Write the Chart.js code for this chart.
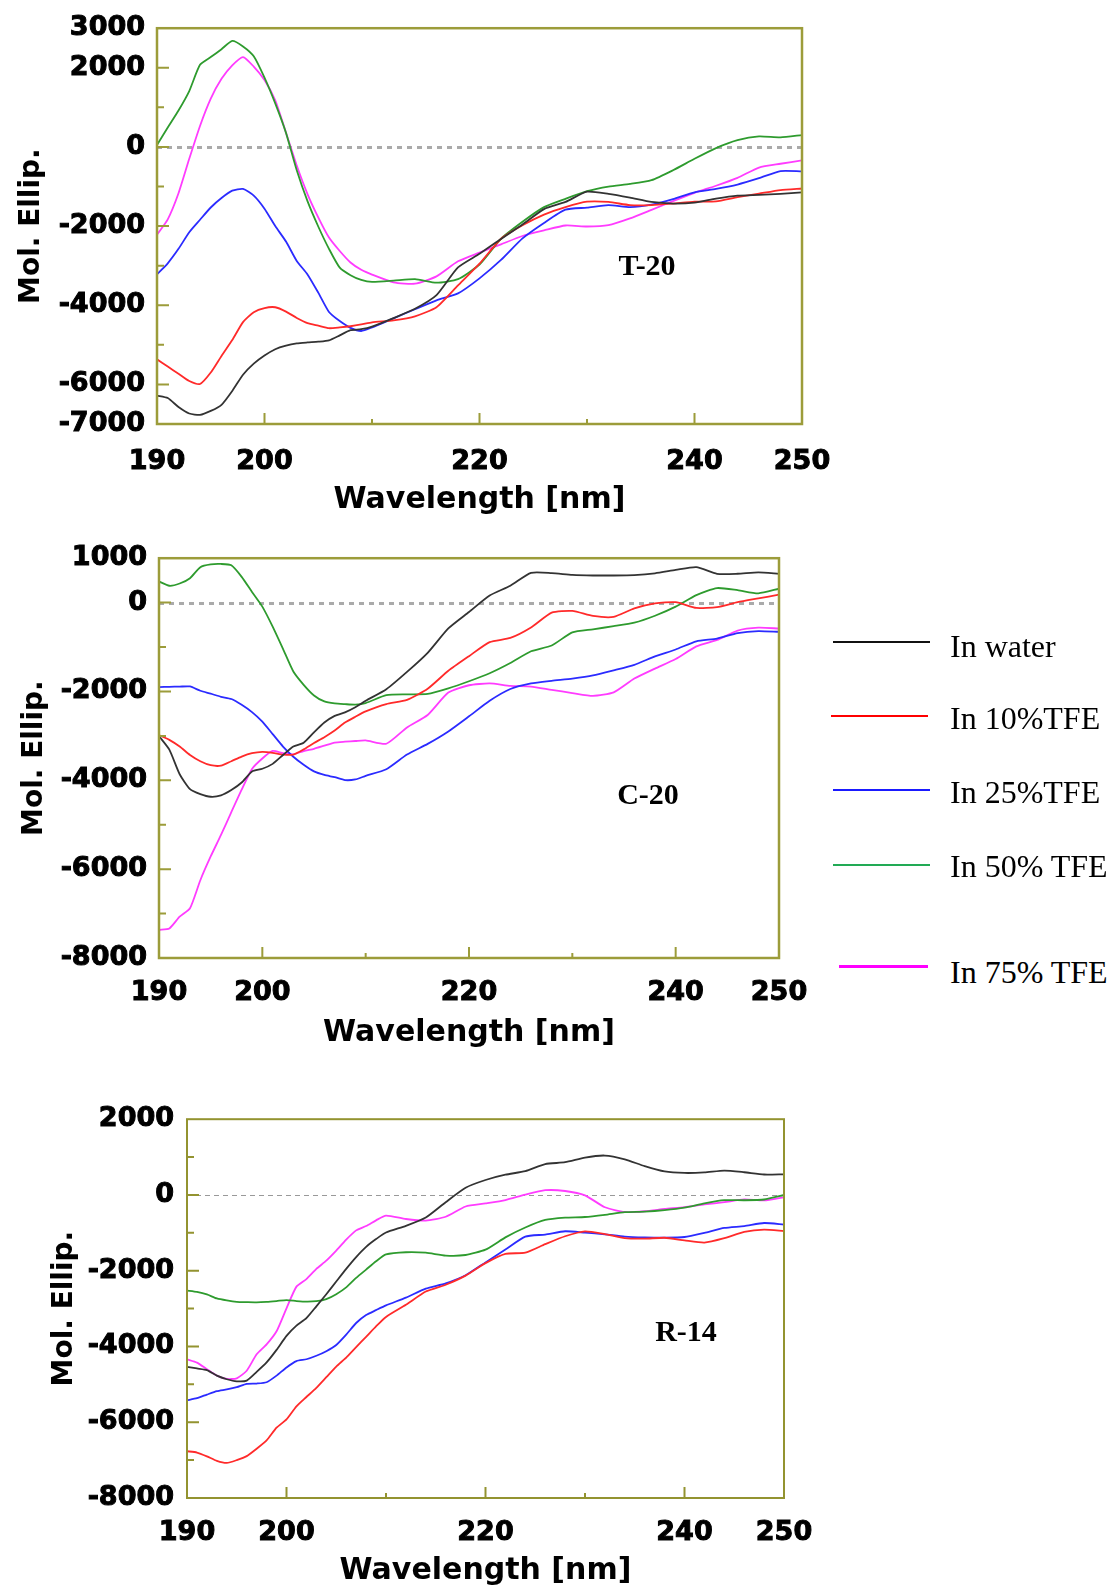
<!DOCTYPE html>
<html><head><meta charset="utf-8">
<script src="https://cdn.jsdelivr.net/npm/chart.js@4"></script>
<style>
html,body{margin:0;padding:0;background:#fff;}
body{width:1114px;height:1586px;overflow:hidden;position:relative;}
canvas{position:absolute;left:0;}
.lbl{position:absolute;font-family:"Liberation Serif","Times New Roman",serif;font-weight:bold;font-size:30px;color:#000;transform:translate(-50%,-50%);white-space:nowrap;line-height:1;}
.leg{position:absolute;left:950px;font-family:"Liberation Serif","Times New Roman",serif;font-size:32px;color:#000;white-space:nowrap;line-height:1;}
.sw{position:absolute;}
</style></head><body>
<canvas id="c1" width="862" height="520" style="top:0px"></canvas>
<canvas id="c2" width="839" height="530" style="top:530px"></canvas>
<canvas id="c3" width="844" height="496" style="top:1090px"></canvas>

<div class="lbl" style="left:647px;top:265px">T-20</div>
<div class="lbl" style="left:648px;top:794px">C-20</div>
<div class="lbl" style="left:686px;top:1331px">R-14</div>

<div class="sw" style="left:833px;top:641px;width:97px;height:2px;background:#111"></div>
<div class="leg" style="top:630px">In water</div>
<div class="sw" style="left:831px;top:715px;width:97px;height:2px;background:#ff0000"></div>
<div class="leg" style="top:702px">In 10%TFE</div>
<div class="sw" style="left:833px;top:789px;width:97px;height:2px;background:#1a1aff"></div>
<div class="leg" style="top:776px">In 25%TFE</div>
<div class="sw" style="left:833px;top:864px;width:97px;height:2px;background:#22aa55"></div>
<div class="leg" style="top:850px">In 50% TFE</div>
<div class="sw" style="left:839px;top:965px;width:89px;height:3px;background:#ff00ff"></div>
<div class="leg" style="top:956px">In 75% TFE</div>

<script>
// ---------- DATA ----------
const wavelengths = [190,191,192,193,194,195,196,197,198,199,200,201,202,203,204,205,206,207,208,209,210,
  212,214,216,218,220,222,224,226,228,230,232,234,236,238,240,242,244,246,248,250];
const seriesNames = ['In water','In 10%TFE','In 25%TFE','In 50% TFE','In 75% TFE'];

// T-20
const t20Water = [-6283,-6345,-6570,-6735,-6770,-6670,-6515,-6165,-5755,-5475,-5270,-5110,-5020,-4965,-4940,-4920,-4885,-4760,-4630,-4605,-4540,
  -4325,-4090,-3745,-3045,-2700,-2325,-1960,-1570,-1390,-1130,-1185,-1280,-1390,-1430,-1405,-1305,-1230,-1210,-1185,-1150];
const t20Tfe10 = [-5367,-5550,-5730,-5915,-5990,-5700,-5280,-4880,-4425,-4175,-4070,-4050,-4160,-4320,-4450,-4515,-4580,-4560,-4530,-4485,-4430,
  -4380,-4280,-4050,-3500,-2950,-2320,-1980,-1710,-1520,-1383,-1390,-1470,-1470,-1430,-1383,-1375,-1270,-1180,-1090,-1050];
const t20Tfe25 = [-3217,-2940,-2575,-2155,-1840,-1530,-1290,-1105,-1060,-1230,-1560,-2000,-2390,-2880,-3220,-3680,-4170,-4400,-4570,-4650,-4560,
  -4330,-4100,-3875,-3700,-3320,-2855,-2310,-1920,-1585,-1533,-1470,-1520,-1460,-1320,-1145,-1060,-950,-790,-610,-617];
const t20Tfe50 = [50,490,920,1412,2075,2270,2470,2680,2540,2290,1750,1100,355,-590,-1370,-2010,-2575,-3050,-3240,-3360,-3410,
  -3380,-3340,-3430,-3340,-2970,-2320,-1890,-1520,-1310,-1117,-1000,-935,-840,-590,-300,-30,170,265,240,300];
const t20Tfe75 = [-2217,-1830,-1170,-300,530,1220,1720,2060,2270,2030,1690,1175,360,-470,-1190,-1780,-2290,-2630,-2920,-3105,-3225,
  -3420,-3455,-3270,-2890,-2670,-2460,-2250,-2110,-1985,-2010,-1975,-1805,-1590,-1370,-1160,-980,-780,-520,-425,-340];

// C-20
const c20Water = [-3005,-3310,-3863,-4198,-4310,-4370,-4340,-4220,-4050,-3800,-3740,-3630,-3430,-3240,-3154,-2920,-2700,-2550,-2470,-2355,-2210,
  -1950,-1560,-1130,-580,-210,160,380,670,665,625,611,611,620,660,735,800,649,650,680,649];
const c20Tfe10 = [-2983,-3090,-3240,-3430,-3570,-3660,-3670,-3570,-3465,-3390,-3360,-3380,-3420,-3420,-3303,-3160,-3030,-2880,-2700,-2570,-2450,
  -2285,-2190,-1940,-1535,-1205,-890,-795,-560,-225,-186,-300,-321,-130,-15,10,-120,-100,10,95,179];
const c20Tfe25 = [-1902,-1895,-1890,-1887,-1984,-2050,-2120,-2170,-2300,-2465,-2680,-2960,-3240,-3470,-3650,-3800,-3880,-3930,-3995,-3980,-3900,
  -3750,-3420,-3180,-2900,-2560,-2210,-1945,-1820,-1760,-1710,-1640,-1525,-1400,-1210,-1055,-870,-810,-685,-640,-656];
const c20Tfe50 = [477,380,430,550,798,860,870,840,580,240,-90,-540,-1040,-1550,-1850,-2090,-2225,-2270,-2285,-2295,-2260,
  -2085,-2065,-2055,-1930,-1770,-1590,-1360,-1095,-965,-670,-600,-530,-450,-295,-90,170,328,280,210,313];
const c20Tfe75 = [-7368,-7335,-7070,-6880,-6249,-5715,-5230,-4715,-4210,-3745,-3510,-3340,-3390,-3415,-3341,-3290,-3220,-3150,-3130,-3115,-3100,
  -3177,-2810,-2530,-2025,-1860,-1820,-1875,-1890,-1965,-2035,-2100,-2020,-1710,-1485,-1270,-985,-840,-630,-565,-582];

// R-14
const r14Water = [-4536,-4580,-4623,-4770,-4865,-4920,-4900,-4670,-4420,-4090,-3720,-3450,-3252,-2940,-2620,-2285,-1951,-1640,-1370,-1165,-990,
  -815,-595,-190,190,395,535,628,815,864,988,1041,940,760,620,581,595,645,600,540,546];
const r14Tfe10 = [-6765,-6800,-6900,-7020,-7075,-7000,-6895,-6700,-6480,-6145,-5924,-5580,-5334,-5090,-4810,-4530,-4293,-4015,-3745,-3470,-3220,
  -2900,-2550,-2370,-2130,-1800,-1555,-1525,-1300,-1090,-960,-1035,-1140,-1153,-1130,-1200,-1258,-1140,-975,-915,-954];
const r14Tfe25 = [-5421,-5365,-5270,-5180,-5135,-5075,-4987,-4978,-4944,-4770,-4553,-4385,-4337,-4245,-4125,-3960,-3686,-3380,-3170,-3040,-2915,
  -2710,-2475,-2335,-2120,-1780,-1440,-1100,-1045,-958,-995,-1040,-1098,-1120,-1127,-1110,-1000,-870,-822,-740,-781];
const r14Tfe50 = [-2524,-2560,-2625,-2732,-2785,-2822,-2830,-2835,-2822,-2800,-2775,-2800,-2817,-2805,-2750,-2620,-2440,-2190,-1970,-1750,-1570,
  -1512,-1525,-1600,-1585,-1445,-1120,-860,-660,-600,-582,-525,-455,-440,-400,-335,-220,-138,-140,-120,0];
const r14Tfe75 = [-4337,-4425,-4600,-4770,-4857,-4840,-4640,-4206,-3946,-3599,-2992,-2420,-2220,-1951,-1735,-1470,-1180,-935,-820,-670,-545,
  -635,-677,-575,-305,-225,-135,10,125,105,-10,-325,-450,-430,-370,-320,-250,-190,-118,-145,-61];

// tick labels
const xTickValues = [190,200,210,220,230,240,250];
const xTickLabels = [190,200,220,240,250];
const t20YLabels = [3000,2000,0,-2000,-4000,-6000,-7000];
const c20YLabels = [1000,0,-2000,-4000,-6000,-8000];
const r14YLabels = [2000,0,-2000,-4000,-6000,-8000];

// ---------- STYLE ----------
const lineColors = ['#333333','#ff2a2a','#2b2bff','#2e9b2e','#ff3cff'];

const framePlugin = {
  id: 'frame',
  beforeDatasetsDraw(chart, args, o) {
    const {ctx, chartArea: a, scales: {y}} = chart;
    ctx.save();
    ctx.strokeStyle = o.zeroColor; ctx.lineWidth = o.zeroWidth; ctx.setLineDash(o.zeroDash);
    const y0 = Math.round(y.getPixelForValue(0)) + 0.5;
    ctx.beginPath(); ctx.moveTo(a.left, y0); ctx.lineTo(a.right, y0); ctx.stroke();
    ctx.restore();
  },
  afterDatasetsDraw(chart, args, o) {
    const {ctx, chartArea: a, scales: {x, y}} = chart;
    ctx.save();
    ctx.strokeStyle = o.color; ctx.lineWidth = o.width;
    ctx.strokeRect(a.left, a.top, a.right - a.left, a.bottom - a.top);
    ctx.lineWidth = 2;
    ctx.beginPath();
    y.ticks.forEach(t => {
      if (t.value <= y.min || t.value >= y.max) return;
      const py = y.getPixelForValue(t.value);
      const len = (t.label !== '' ? o.yMajor : o.yMinor);
      ctx.moveTo(a.left, py); ctx.lineTo(a.left + len, py);
    });
    x.ticks.forEach(t => {
      if (t.value <= x.min || t.value >= x.max) return;
      const px = x.getPixelForValue(t.value);
      const len = (t.label !== '' ? o.xMajor : o.xMinor);
      ctx.moveTo(px, a.bottom); ctx.lineTo(px, a.bottom - len);
    });
    ctx.stroke();
    ctx.restore();
  }
};

function makeChart(id, series, yMin, yMax, yLabels, g) {
  const tickFont = {family: 'DejaVu Sans', weight: 'bold', size: 27};
  return new Chart(document.getElementById(id), {
    type: 'line',
    data: {
      datasets: series.map((arr, i) => ({
        label: seriesNames[i],
        data: wavelengths.map((w, j) => ({x: w, y: arr[j]})),
        borderColor: lineColors[i], borderWidth: 1.8,
        pointRadius: 0, tension: 0.2, fill: false
      }))
    },
    options: {
      responsive: false, animation: false, events: [],
      layout: {padding: {top: g.top, right: g.right, left: 0, bottom: 0}},
      plugins: {
        legend: {display: false}, tooltip: {enabled: false},
        frame: {color: g.frameColor, width: g.frameWidth, zeroColor: g.zeroColor, zeroWidth: g.zeroWidth,
                zeroDash: g.zeroDash, yMajor: 12, yMinor: 7, xMajor: 11, xMinor: 5}
      },
      scales: {
        x: {
          type: 'linear', min: 190, max: 250,
          afterBuildTicks: s => { s.ticks = xTickValues.map(v => ({value: v})); },
          afterFit: s => { s.height = g.xh; },
          grid: {display: false, drawTicks: false}, border: {display: false},
          ticks: {autoSkip: false, maxRotation: 0, padding: g.xtp, color: '#000', font: tickFont,
                  textStrokeColor: '#000', textStrokeWidth: 1,
                  callback: v => xTickLabels.includes(v) ? String(v) : ''},
          title: {display: true, text: 'Wavelength [nm]', color: '#000',
                  font: {family: 'DejaVu Sans', weight: 'bold', size: 30, lineHeight: 1},
                  padding: {top: 0, bottom: g.xtitle}}
        },
        y: {
          type: 'linear', min: yMin, max: yMax,
          afterBuildTicks: s => { const t = []; for (let v = yMin; v <= yMax; v += 1000) t.push({value: v}); s.ticks = t; },
          afterFit: s => { s.width = g.yw; },
          grid: {display: false, drawTicks: false}, border: {display: false},
          ticks: {autoSkip: false, padding: g.ytp, color: '#000', font: tickFont,
                  textStrokeColor: '#000', textStrokeWidth: 1,
                  callback: v => yLabels.includes(v) ? String(v) : ''},
          title: {display: true, text: 'Mol. Ellip.', color: '#000',
                  font: {family: 'DejaVu Sans', weight: 'bold', size: 28, lineHeight: 1},
                  padding: {top: g.ytitle, bottom: 0}}
        }
      }
    },
    plugins: [framePlugin]
  });
}

makeChart('c1', [t20Water, t20Tfe10, t20Tfe25, t20Tfe50, t20Tfe75], -7000, 3000, t20YLabels,
  {top: 25, right: 60, yw: 157, xh: 96, xtp: 22, ytp: 12, xtitle: 5, ytitle: 18,
   frameColor: '#9c9c3a', frameWidth: 2.5, zeroColor: '#aaaaaa', zeroWidth: 3, zeroDash: [5, 5]});
makeChart('c2', [c20Water, c20Tfe10, c20Tfe25, c20Tfe50, c20Tfe75], -8000, 1000, c20YLabels,
  {top: 26, right: 60, yw: 159, xh: 102, xtp: 19, ytp: 12, xtitle: 12, ytitle: 21,
   frameColor: '#9c9c3a', frameWidth: 2.5, zeroColor: '#aaaaaa', zeroWidth: 3, zeroDash: [5, 5]});
makeChart('c3', [r14Water, r14Tfe10, r14Tfe25, r14Tfe50, r14Tfe75], -8000, 2000, r14YLabels,
  {top: 24, right: 60, yw: 187, xh: 88, xtp: 19, ytp: 13, xtitle: 0, ytitle: 51,
   frameColor: '#939330', frameWidth: 2, zeroColor: '#999999', zeroWidth: 1.2, zeroDash: [5, 4]});
</script>
</body></html>
